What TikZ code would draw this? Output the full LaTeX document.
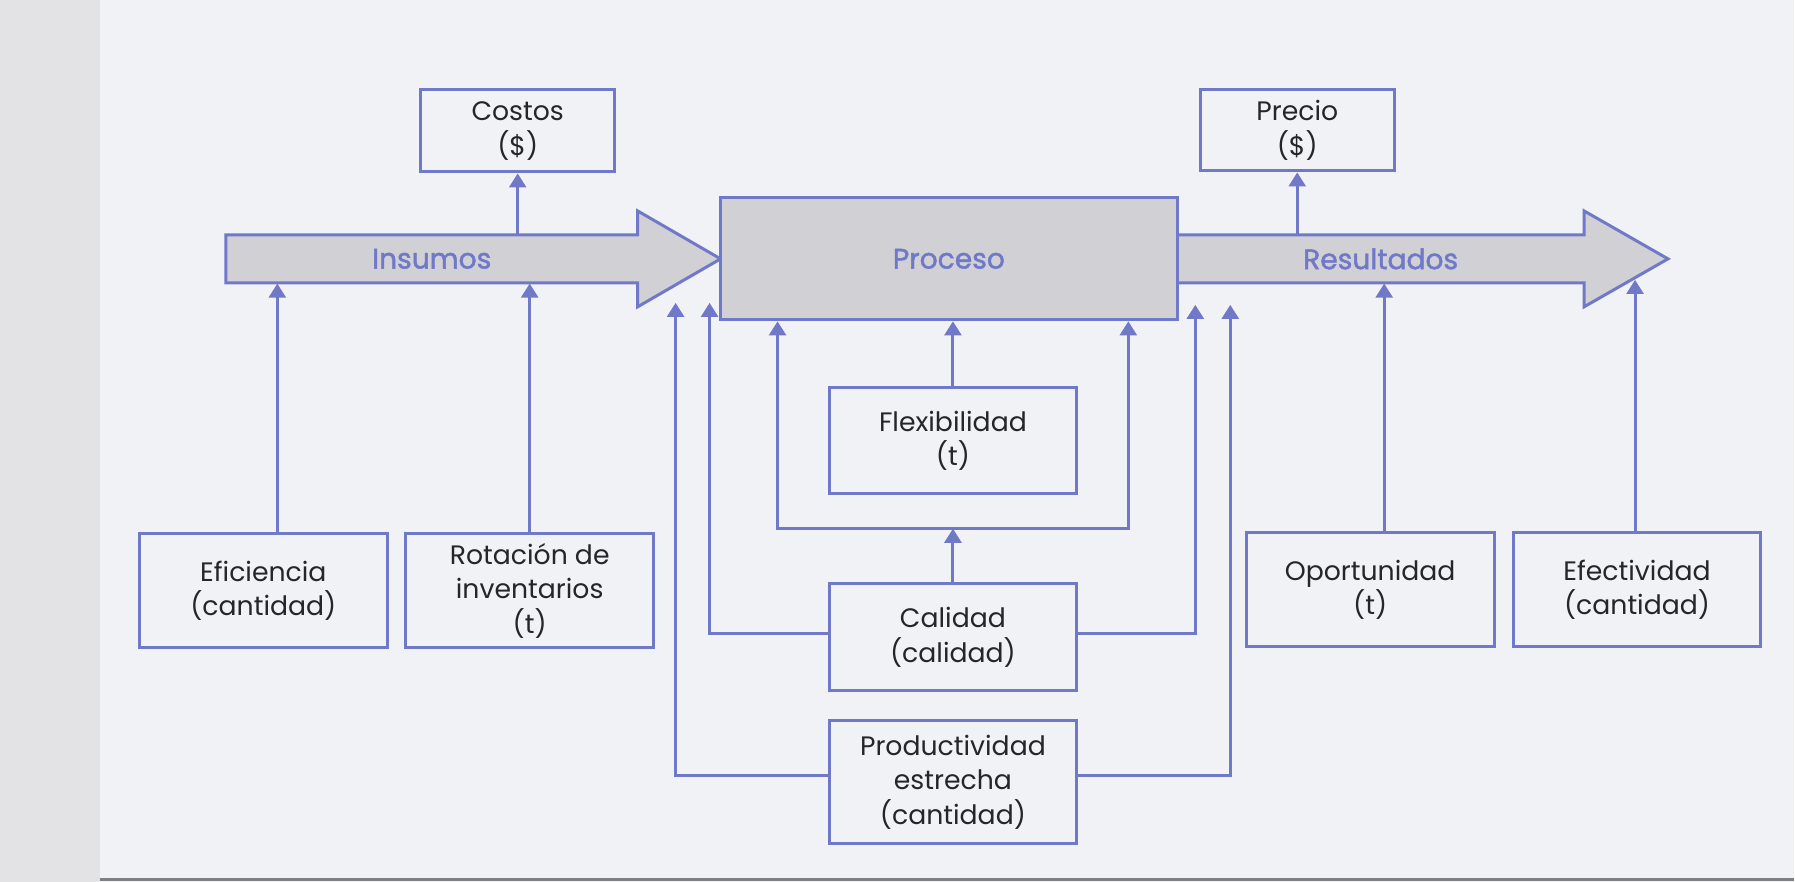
\documentclass[tikz,border=0pt]{standalone}
\usepackage{fontspec}
\setmainfont{Poppins}
\newfontfamily\etiqueta[FakeBold=1.6]{Poppins}
\usetikzlibrary{arrows.meta}
\definecolor{linea}{HTML}{7078C8}
\definecolor{relleno}{HTML}{D0D0D5}
\definecolor{fondo}{HTML}{F1F2F6}
\definecolor{borde}{HTML}{E3E3E5}
\definecolor{tinta}{HTML}{262628}
\begin{document}
\begin{tikzpicture}[line join=miter, >={Triangle[width=4.8pt,length=4pt]},
	caja/.style={draw=linea, line width=0.85pt, align=center, inner sep=0pt, minimum width=2.48cm, minimum height=1.14cm, text=tinta, font=\fontsize{7.6}{9.8}\selectfont},
	cuerpo/.style={inner sep=0pt, minimum height=0.48cm, text=linea, font=\etiqueta\fontsize{8}{10}\selectfont},
	flecha/.style={draw=linea, line width=0.85pt, fill=relleno},
	conn/.style={draw=linea, line width=0.85pt, ->}]
	\fill[fondo] (0,0) rectangle (17.95,-8.82);
	\fill[borde] (0,0) rectangle (1,-8.82);
	\draw[gray, line width=0.6pt] (1,-8.8) -- (17.95,-8.8);
	\useasboundingbox (0,0) rectangle (17.95,-8.82);
	
	\path
		(6.76,-3.03) coordinate (a1)
		(7.10,-3.03) coordinate (a2)
		(11.96,-3.05) coordinate (a3)
		(12.31,-3.05) coordinate (a4)
		(7.78,-5.29) coordinate (li)
		(11.29,-5.29) coordinate (ld)
		(16.36,-2.80) coordinate (pr)
	;
	
	\filldraw[flecha] (2.26,-2.35) -- (6.38,-2.35) -- (6.38,-2.11) -- (7.21,-2.59) -- (6.38,-3.07) -- (6.38,-2.83) -- (2.26,-2.83) -- cycle;
	\filldraw[flecha] (11.78,-2.35) -- (15.85,-2.35) -- (15.85,-2.11) -- (16.69,-2.59) -- (15.85,-3.07) -- (15.85,-2.83) -- (11.78,-2.83) -- cycle;
	
	\node[caja, fill=relleno, text=linea, minimum width=4.57cm, minimum height=1.22cm, font=\etiqueta\fontsize{8}{10}\selectfont] (proceso) at (9.495,-2.59) {Proceso};
	\node[cuerpo, minimum width=4.12cm] (insumos) at (4.32,-2.59) {Insumos};
	\node[cuerpo, minimum width=4.07cm] (resultados) at (13.815,-2.59) {Resultados};
	
	\node[caja, minimum width=1.94cm, minimum height=0.82cm] (costos) at (5.18,-1.31) {Costos\\(\$)};
	\node[caja, minimum width=1.94cm, minimum height=0.81cm] (precio) at (12.98,-1.305) {Precio\\(\$)};
	
	\node[caja] (eficiencia) at (2.635,-5.91) {Eficiencia\\(cantidad)};
	\node[caja] (rotacion) at (5.30,-5.91) {Rotación de\\inventarios\\(t)};
	\node[caja] (oportunidad) at (13.71,-5.90) {Oportunidad\\(t)};
	\node[caja] (efectividad) at (16.38,-5.90) {Efectividad\\(cantidad)};
	
	\node[caja, minimum width=2.47cm, minimum height=1.06cm] (flexibilidad) at (9.535,-4.41) {Flexibilidad\\(t)};
	\node[caja, minimum width=2.47cm, minimum height=1.07cm] (calidad) at (9.535,-6.375) {Calidad\\(calidad)};
	\node[caja, minimum width=2.47cm, minimum height=1.23cm] (productividad) at (9.535,-7.825) {Productividad\\estrecha\\(cantidad)};
	
	\draw[conn] (insumos.north -| costos.south) -- (costos.south);
	\draw[conn] (resultados.north -| precio.south) -- (precio.south);
	\draw[conn] ([xshift=0.14cm]eficiencia.north) -- ([xshift=0.14cm]eficiencia.north |- insumos.south);
	\draw[conn] (rotacion.north) -- (rotacion.north |- insumos.south);
	\draw[conn] ([xshift=0.14cm]oportunidad.north) -- ([xshift=0.14cm]oportunidad.north |- resultados.south);
	\draw[conn] (efectividad.north -| pr) -- (pr);
	
	\draw[conn] (flexibilidad.north) -- (flexibilidad.north |- proceso.south);
	\draw[conn] (calidad.north) -- (calidad.north |- li);
	\draw[conn, <->] (proceso.south -| li) -- (li) -- (ld) -- (proceso.south -| ld);
	
	\draw[conn] ([yshift=0.035cm]calidad.west) -| (a2);
	\draw[conn] ([yshift=0.04cm]calidad.east) -| (a3);
	\draw[conn] ([yshift=0.065cm]productividad.west) -| (a1);
	\draw[conn] ([yshift=0.065cm]productividad.east) -| (a4);
	
\end{tikzpicture}
\end{document}
